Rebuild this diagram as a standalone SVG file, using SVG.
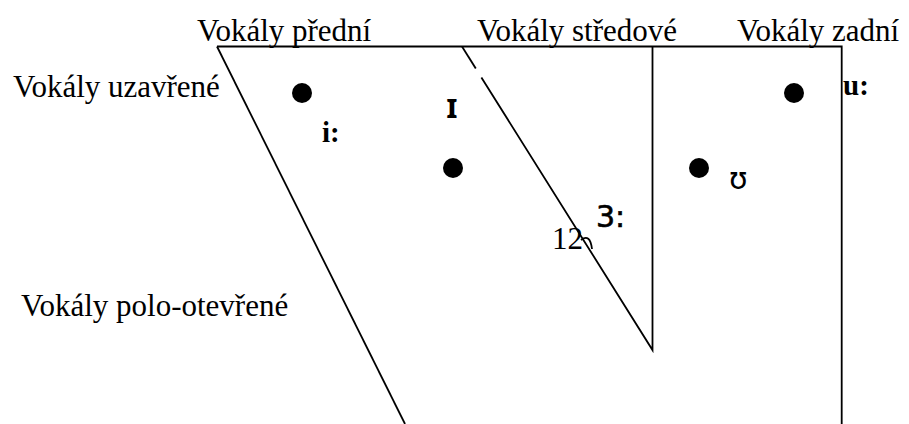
<svg xmlns="http://www.w3.org/2000/svg" width="909" height="424" viewBox="0 0 909 424">
<style>
.ln{stroke:#000;stroke-width:1.8;fill:none}
.lbl{font-family:"Liberation Serif","Times New Roman",serif;font-size:31px;fill:#000}
.ipa{font-family:"DejaVu Sans",sans-serif;font-size:30px;fill:#000}
.bs{font-family:"Liberation Serif","Times New Roman",serif;font-size:29px;font-weight:bold;fill:#000}
.dot{fill:#000}
</style>
<rect width="909" height="424" fill="#fff"/>
<g id="connectors">
<path class="ln" d="M217 46.5 H841.7 V424"/>
<path class="ln" d="M217 46.5 L405 424"/>
<path class="ln" d="M462 46.5 L475.8 68.5"/>
<path class="ln" d="M481.4 77.5 L652.5 350 V46.5"/>
<path class="ln" d="M581 240 Q590 233 592 249" stroke-width="1.4"/>
</g>
<g id="headers">
<text class="lbl" x="197" y="41">Vokály přední</text>
<text class="lbl" x="477" y="41">Vokály středové</text>
<text class="lbl" x="737" y="41">Vokály zadní</text>
</g>
<g id="rows">
<text class="lbl" x="13" y="97">Vokály uzavřené</text>
<text class="lbl" x="21" y="316">Vokály polo-otevřené</text>
</g>
<g id="vowel-i">
<circle class="dot" cx="302" cy="93" r="10"/>
<text class="bs" x="322" y="142">i:</text>
</g>
<g id="vowel-I">
<circle class="dot" cx="453" cy="168" r="10"/>
<text x="446" y="118" font-family="'Noto Sans','DejaVu Sans',sans-serif" font-size="34" font-weight="bold">ɪ</text>
</g>
<g id="vowel-3">
<text class="ipa" x="596" y="227" stroke="#000" stroke-width="0.6">3:</text>
<text class="lbl" x="552" y="249">12</text>
</g>
<g id="vowel-U">
<circle class="dot" cx="699" cy="168" r="10"/>
<text class="ipa" x="729" y="189">ʊ</text>
</g>
<g id="vowel-u">
<circle class="dot" cx="794" cy="93" r="10"/>
<text class="bs" x="843" y="95">u:</text>
</g>
</svg>
